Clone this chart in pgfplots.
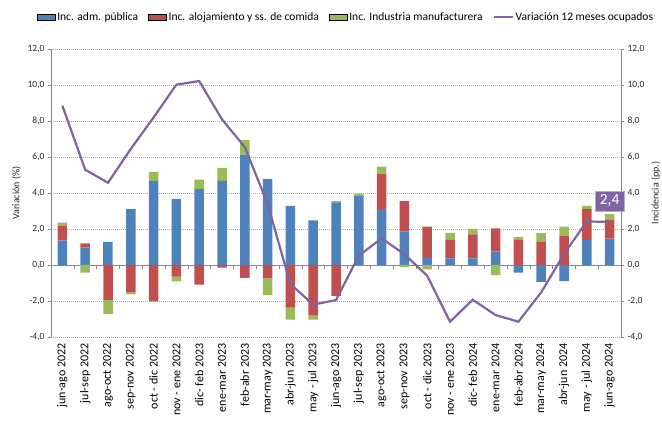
\documentclass[border=0pt]{standalone}
\usepackage{fontspec}
\setmainfont{Carlito}
\usepackage{pgfplots}
\pgfplotsset{compat=1.18}
\usepackage{pgfplotstable}
\definecolor{cblue}{RGB}{79,129,189}
\definecolor{cred}{RGB}{192,80,77}
\definecolor{cgreen}{RGB}{155,187,89}
\definecolor{cpurple}{RGB}{128,100,162}
\definecolor{axgray}{RGB}{134,134,134}

% incidencias (pp.) y variacion 12 meses (%)
\pgfplotstableread{
x  adm   aloj   ind    var
0   1.35  0.83  0.17   8.85
1   0.98  0.22 -0.43   5.29
2   1.29 -1.94 -0.78   4.57
3   3.11 -1.52 -0.11   6.45
4   4.67 -2.02  0.51   8.20
5   3.68 -0.65 -0.26  10.02
6   4.22 -1.09  0.52  10.22
7   4.67 -0.15  0.73   8.09
8   6.13 -0.72  0.82   6.55
9   4.78 -0.74 -0.93   3.40
10  3.28 -2.37 -0.67  -1.06
11  2.48 -2.78 -0.26  -2.20
12  3.48 -1.72  0.07  -1.95
13  3.85  0.00  0.11   0.52
14  3.11  1.96  0.39   1.48
15  1.87  1.68 -0.11   0.60
16  0.39  1.74 -0.24  -0.60
17  0.37  1.02  0.39  -3.15
18  0.37  1.33  0.30  -1.93
19  0.76  1.28 -0.56  -2.78
20 -0.43  1.39  0.17  -3.15
21 -0.94  1.29  0.48  -1.52
22 -0.89  1.63  0.50   0.61
23  1.39  1.72  0.17   2.42
24  1.46  1.06  0.31   2.39
}\datos

\pgfplotsset{
  base/.style={
    scale only axis, width=570pt, height=288pt,
    xmin=-0.5, xmax=24.5, ymin=-4, ymax=12,
    ytick={-4,-2,...,12},
    yticklabel style={font=\fontsize{9.5}{11}\selectfont, text=black!85,
      /pgf/number format/.cd, fixed, fixed zerofill, precision=1, use comma, assume math mode=true},
    tick align=outside, major tick length=3pt,
    every tick/.style={axgray},
    axis line style={axgray},
    label style={font=\fontsize{10}{12}\selectfont, text=black!85},
  },
  barleg/.style={legend image code/.code={\fill[##1] (0pt,-3pt) rectangle (18pt,3pt);}},
}

\begin{document}
\begin{tikzpicture}
% barras positivas, rejilla y ejes de la izquierda
\begin{axis}[base,
  ybar stacked, bar width=9.5pt,
  axis y line*=left, axis x line*=bottom,
  x axis line style={draw=none}, major x tick style={draw=none},
  xtick={0,...,24},
  xticklabels={jun-ago 2022,jul-sep 2022,ago-oct 2022,sep-nov 2022,oct - dic 2022,nov - ene 2022,dic- feb 2023,ene-mar 2023,feb-abr 2023,mar-may 2023,abr-jun 2023,may - jul 2023,jun-ago 2023,jul-sep 2023,ago-oct 2023,sep-nov 2023,oct - dic 2023,nov - ene 2023,dic- feb 2024,ene-mar 2024,feb-abr 2024,mar-may 2024,abr-jun 2024,may - jul 2024,jun-ago 2024},
  x tick label style={rotate=90, anchor=east, font=\fontsize{12}{14}\selectfont, text=black},
  ymajorgrids, grid style={axgray!70, dash pattern=on 1pt off 1pt},
  ylabel={Variación (\%)},
]
\addplot[fill=cblue, draw=none] table[x=x, y expr={max(\thisrow{adm},0)}] {\datos};
\addplot[fill=cred, draw=none] table[x=x, y expr={max(\thisrow{aloj},0)}] {\datos};
\addplot[fill=cgreen, draw=none] table[x=x, y expr={max(\thisrow{ind},0)}] {\datos};
\draw[axgray] (axis cs:-0.5,0) -- (axis cs:24.5,0);
\pgfplotsinvokeforeach{0,...,23}{\draw[axgray] (axis cs:#1+0.5,0) -- ([yshift=-4pt]axis cs:#1+0.5,0);}
\end{axis}
% barras negativas
\begin{axis}[base, hide axis, ybar stacked, bar width=9.5pt]
\addplot[fill=cblue, draw=none] table[x=x, y expr={min(\thisrow{adm},0)}] {\datos};
\addplot[fill=cred, draw=none] table[x=x, y expr={min(\thisrow{aloj},0)}] {\datos};
\addplot[fill=cgreen, draw=none] table[x=x, y expr={min(\thisrow{ind},0)}] {\datos};
\end{axis}
% linea y eje de la derecha
\begin{axis}[base,
  axis y line*=right, axis x line=none,
  ylabel={Incidencia (pp.)},
  legend style={at={(0.5175,1.111)}, anchor=center, draw=none, fill=none,
    legend columns=4, font=\fontsize{11.5}{13}\selectfont,
    /tikz/every even column/.append style={column sep=8pt}},
  legend cell align=left,
]
\addlegendimage{barleg, fill=cblue}
\addlegendentry{Inc. adm. pública}
\addlegendimage{barleg, fill=cred}
\addlegendentry{Inc. alojamiento y ss. de comida}
\addlegendimage{barleg, fill=cgreen}
\addlegendentry{Inc. Industria manufacturera}
\addplot[cpurple, line width=2.2pt, mark=none,
  legend image code/.code={\draw[cpurple, line width=2pt] (0pt,0pt) -- (19pt,0pt);}]
  table[x=x, y=var] {\datos};
\addlegendentry{Variación 12 meses ocupados}
\addplot[draw=none, mark=none, forget plot,
  nodes near coords={2,4},
  nodes near coords style={anchor=south, yshift=11pt, fill=cpurple, text=white,
    draw=cpurple!55!white, font=\fontsize{15.5}{17}\selectfont,
    inner xsep=5pt, inner ysep=4pt}]
  coordinates {(24,2.39)};
\end{axis}
\pgfresetboundingbox
\path (-51pt,-94pt) rectangle (611pt,337pt);
\end{tikzpicture}
\end{document}
